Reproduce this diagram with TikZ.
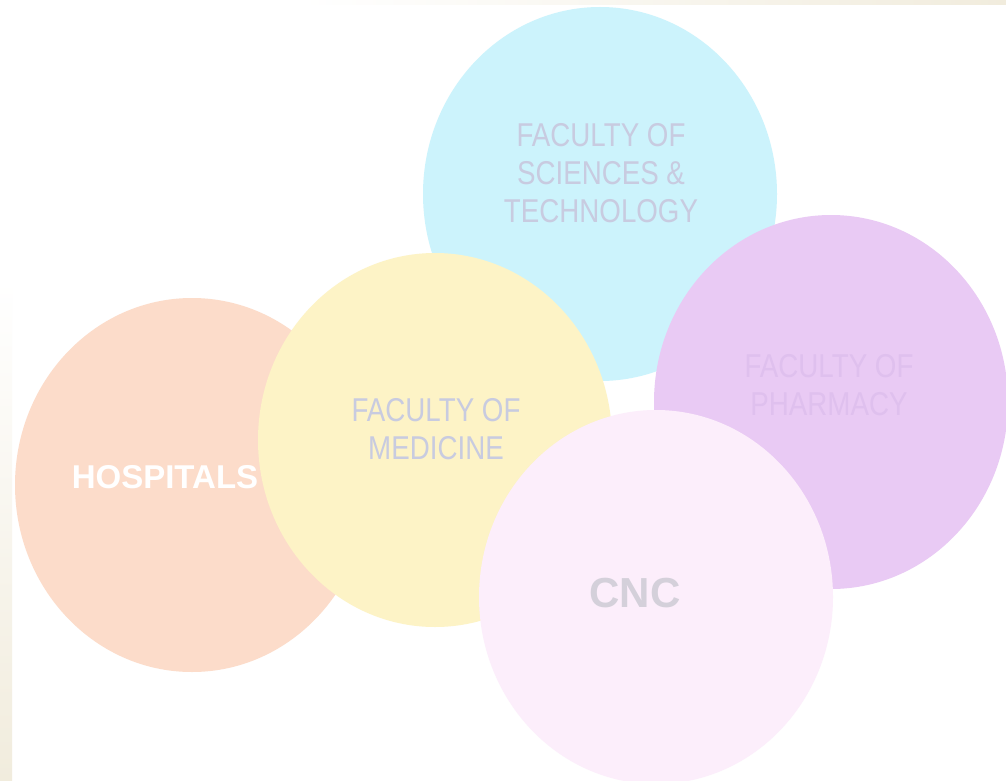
\documentclass[tikz,border=0pt]{standalone}
\usepackage{fontspec}
\setmainfont{Liberation Sans}
\newfontfamily\narrowfont[FakeStretch=0.84]{Liberation Sans}
\usetikzlibrary{shapes.geometric}

\definecolor{sciencecol}{HTML}{CCF3FC}
\definecolor{pharmacol}{HTML}{E9CAF4}
\definecolor{hospitalcol}{HTML}{FCDCCA}
\definecolor{medicinecol}{HTML}{FDF3C6}
\definecolor{cnccol}{HTML}{FCEEFB}
\definecolor{labelcol}{HTML}{C8CBE0}
\definecolor{pharmatext}{HTML}{DFC0EE}
\definecolor{cnctext}{HTML}{D4D0DA}
\definecolor{papercol}{HTML}{F1ECDD}

\begin{document}
\begin{tikzpicture}
    [
        x=1pt, y=-1pt,
        bubble/.style={ellipse, inner sep=0pt,
                       minimum width=354pt, minimum height=374pt},
        caption/.style={font=\narrowfont\fontsize{33}{38}\selectfont, align=center},
        bigcaption/.style={font=\bfseries\fontsize{#1}{#1}\selectfont},
    ]

    \useasboundingbox (0,0) rectangle (1006,781);
    \fill [white] (0,0) rectangle (1006,781);

    % paper edges
    \shade [left color=white, right color=papercol] (300,0) rectangle (1006,5);
    \shade [top color=white, bottom color=papercol] (0,280) rectangle (12,781);

    % bubbles, back to front
    \node (sci)  at (600,194) [bubble, fill=sciencecol]  {};
    \node (phar) at (831,402) [bubble, fill=pharmacol]   {};
    \node (hosp) at (192,485) [bubble, fill=hospitalcol] {};
    \node (med)  at (435,440) [bubble, fill=medicinecol] {};
    \node (cnc)  at (656,597) [bubble, fill=cnccol]      {};

    % labels
    \node (scitxt)  at (601,173) [caption, text=labelcol]   {FACULTY OF\\SCIENCES \&\\TECHNOLOGY};
    \node (phartxt) at (829,385) [caption, text=pharmatext] {FACULTY OF\\PHARMACY};
    \node (medtxt)  at (436,429) [caption, text=labelcol]   {FACULTY OF\\MEDICINE};
    \node (hosptxt) at (165,477) [bigcaption=33, text=white]   {HOSPITALS};
    \node (cnctxt)  at (635,593) [bigcaption=42, text=cnctext] {CNC};

\end{tikzpicture}
\end{document}
